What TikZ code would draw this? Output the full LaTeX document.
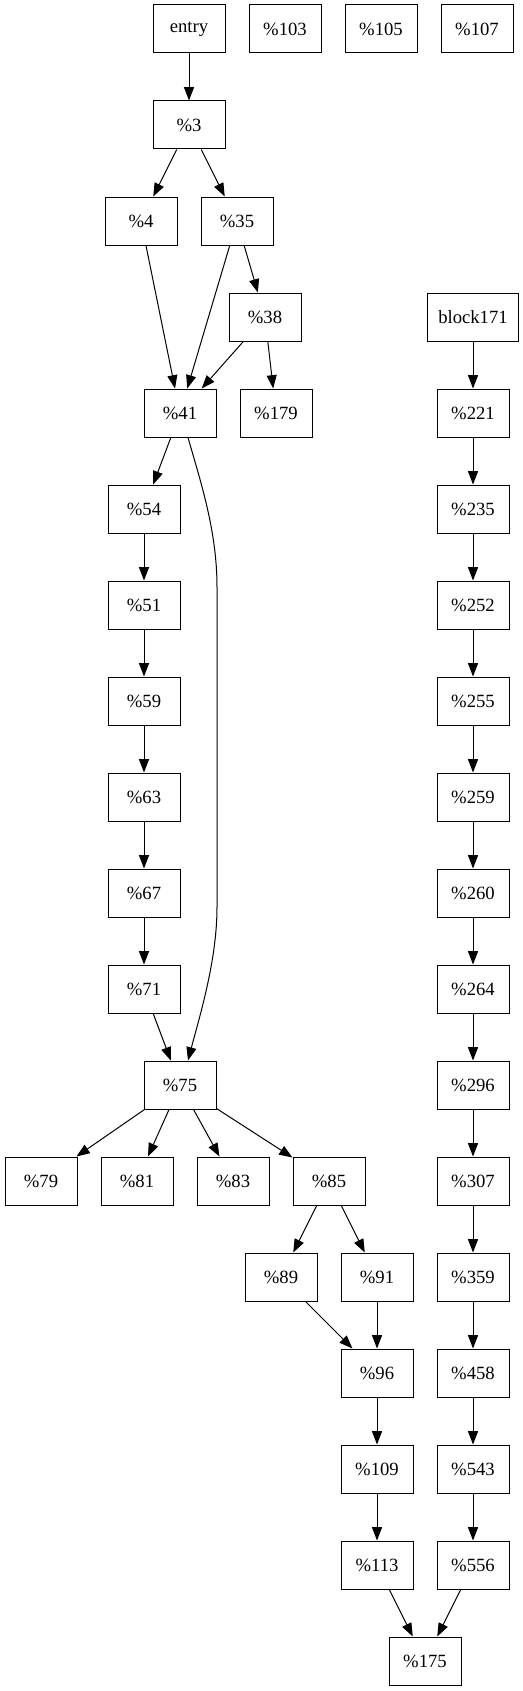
\documentclass[tikz,border=0pt]{standalone}
\usepackage{fontspec}
\setmainfont{Liberation Serif}
\usepackage{tikz}
\usetikzlibrary{arrows.meta}
\tikzset{
  block/.style={draw,rectangle,minimum width=54pt,minimum height=36pt,inner xsep=8pt,inner ysep=0pt,font=\fontsize{14}{16}\selectfont},
  edge/.style={-{Triangle[length=10pt,width=7.5pt]}}
}

\begin{document}
\begin{tikzpicture}[x=0.75pt,y=-0.75pt,line width=0.75pt]
        \useasboundingbox (0,0) rectangle (523,1691);

        %%% Top row %%%
        \node[block] (entry) at (189,29) {entry};
        \node[block] (n103) at (285,29) {\%103};
        \node[block] (n105) at (381,29) {\%105};
        \node[block] (n107) at (477,29) {\%107};

        %%% Entry part %%%
        \node[block] (n3) at (189,125) {\%3};
        \node[block] (n4) at (141,221) {\%4};
        \node[block] (n35) at (237,221) {\%35};
        \node[block] (n38) at (265,317) {\%38};
        \node[block] (n41) at (180,413) {\%41};
        \node[block] (n179) at (276,413) {\%179};
        \draw[edge] (entry)--(n3);
        \draw[edge] (n3)--(n4);
        \draw[edge] (n3)--(n35);
        \draw[edge] (n4)--(n41);
        \draw[edge] (n35)--(n41);
        \draw[edge] (n35)--(n38);
        \draw[edge] (n38)--(n41);
        \draw[edge] (n38)--(n179);

        %%% Left chain %%%
        \node[block] (n54) at (144,509) {\%54};
        \node[block] (n51) at (144,605) {\%51};
        \node[block] (n59) at (144,701) {\%59};
        \node[block] (n63) at (144,797) {\%63};
        \node[block] (n67) at (144,893) {\%67};
        \node[block] (n71) at (144,989) {\%71};
        \node[block] (n75) at (180,1085) {\%75};
        \draw[edge] (n41)--(n54);
        \draw[edge] (n54)--(n51);
        \draw[edge] (n51)--(n59);
        \draw[edge] (n59)--(n63);
        \draw[edge] (n63)--(n67);
        \draw[edge] (n67)--(n71);
        \draw[edge] (n71)--(n75);

        %%% Long edge 41 -> 75 %%%
        \coordinate (bendtop) at (217,587);
        \coordinate (bendbot) at (217,907);
        \draw[edge] ([xshift=6pt]n41.south) .. controls (200,480) and (217,530) .. (bendtop)
            -- (bendbot) .. controls (217,960) and (200,1015) .. ([xshift=6pt]n75.north);

        %%% Below 75 %%%
        \node[block] (n79) at (41,1181) {\%79};
        \node[block] (n81) at (137,1181) {\%81};
        \node[block] (n83) at (233,1181) {\%83};
        \node[block] (n85) at (329,1181) {\%85};
        \node[block] (n89) at (281,1277) {\%89};
        \node[block] (n91) at (377,1277) {\%91};
        \node[block] (n96) at (377,1373) {\%96};
        \node[block] (n109) at (377,1469) {\%109};
        \node[block] (n113) at (377,1565) {\%113};
        \node[block] (n175) at (425,1661) {\%175};
        \draw[edge] (n75)--(n79);
        \draw[edge] (n75)--(n81);
        \draw[edge] (n75)--(n83);
        \draw[edge] (n75)--(n85);
        \draw[edge] (n85)--(n89);
        \draw[edge] (n85)--(n91);
        \draw[edge] (n89)--(n96);
        \draw[edge] (n91)--(n96);
        \draw[edge] (n96)--(n109);
        \draw[edge] (n109)--(n113);
        \draw[edge] (n113)--(n175);

        %%% Right chain %%%
        \node[block] (block171) at (473,317) {block171};
        \node[block] (n221) at (473,413) {\%221};
        \node[block] (n235) at (473,509) {\%235};
        \node[block] (n252) at (473,605) {\%252};
        \node[block] (n255) at (473,701) {\%255};
        \node[block] (n259) at (473,797) {\%259};
        \node[block] (n260) at (473,893) {\%260};
        \node[block] (n264) at (473,989) {\%264};
        \node[block] (n296) at (473,1085) {\%296};
        \node[block] (n307) at (473,1181) {\%307};
        \node[block] (n359) at (473,1277) {\%359};
        \node[block] (n458) at (473,1373) {\%458};
        \node[block] (n543) at (473,1469) {\%543};
        \node[block] (n556) at (473,1565) {\%556};
        \draw[edge] (block171)--(n221);
        \draw[edge] (n221)--(n235);
        \draw[edge] (n235)--(n252);
        \draw[edge] (n252)--(n255);
        \draw[edge] (n255)--(n259);
        \draw[edge] (n259)--(n260);
        \draw[edge] (n260)--(n264);
        \draw[edge] (n264)--(n296);
        \draw[edge] (n296)--(n307);
        \draw[edge] (n307)--(n359);
        \draw[edge] (n359)--(n458);
        \draw[edge] (n458)--(n543);
        \draw[edge] (n543)--(n556);
        \draw[edge] (n556)--(n175);
    \end{tikzpicture}
\end{document}
